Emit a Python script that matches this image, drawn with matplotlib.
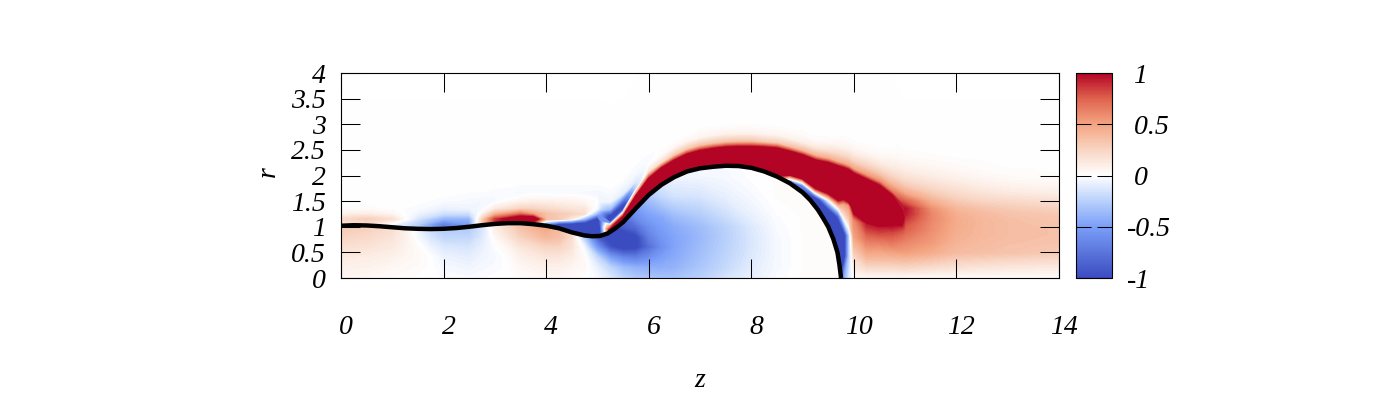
import numpy as np
import matplotlib
matplotlib.use("Agg")
import matplotlib.pyplot as plt
from matplotlib.path import Path
from matplotlib.colors import LinearSegmentedColormap, Normalize
from matplotlib.cm import ScalarMappable
from matplotlib.transforms import ScaledTranslation

plt.rcParams['font.family'] = ['Liberation Serif', 'DejaVu Serif']
plt.rcParams['font.style'] = 'italic'
FS = 20

z_ticks = [0, 2, 4, 6, 8, 10, 12, 14]
z_ticklabels = ['0', '2', '4', '6', '8', '10', '12', '14']
r_ticks = [0, 0.5, 1, 1.5, 2, 2.5, 3, 3.5, 4]
r_ticklabels = ['0', '0.5', '1', '1.5', '2', '2.5', '3', '3.5', '4']
c_ticks = [-1, -0.5, 0, 0.5, 1]
c_ticklabels = ['-1', '-0.5', '0', '0.5', '1']

# interface
iface_z = [0, .25, .5, .75, 1, 1.25, 1.5, 1.75, 2, 2.25, 2.5, 2.75, 3, 3.25, 3.5, 3.75, 4, 4.25, 4.5, 4.75, 4.9, 5.05, 5.2, 5.35, 5.5, 5.75,
           6, 6.25, 6.5, 6.75, 7, 7.25, 7.5, 7.75, 8, 8.25, 8.5, 8.75, 9, 9.15, 9.3, 9.4, 9.5, 9.6, 9.68, 9.72, 9.75]
iface_r = [1.02, 1.03, 1.025, 1.01, .99, .97, .96, .955, .96, .975, 1.0, 1.03, 1.055, 1.07, 1.07, 1.05, 1.02, .97, .89, .83, .815, .82, .87, .97, 1.09, 1.36,
           1.62, 1.82, 1.97, 2.08, 2.14, 2.17, 2.19, 2.185, 2.15, 2.08, 1.98, 1.85, 1.67, 1.52, 1.33, 1.17, 1.0, .76, .5, .25, 0]

# vorticity above the interface, in hundredths, one row per z value
outer_z = [0, .5, 1, 1.5, 2, 2.5, 2.75, 3, 3.5, 3.75, 4, 4.25, 4.5, 4.75, 5, 5.25, 5.5, 5.75, 6, 6.25, 6.5, 6.75, 7, 7.25,
           7.5, 7.75, 8, 8.25, 8.5, 8.75, 9, 9.25, 9.5, 9.7, 9.8, 9.9, 10, 10.25, 10.5, 10.75, 11, 11.5, 12, 12.5, 13, 13.5, 14]
# height of the upper edge of the strong sheet in each column
outer_top = [1.25, 1.25, 1.25, 1.25, 1.25, 1.25, 1.25, 1.25, 1.25, 1.25, 1.25, 1.25, 1.25, 1.25, 1.25, 1.1, 1.25, 1.64, 1.96, 2.14, 2.29, 2.41, 2.48, 2.52,
             2.55, 2.56, 2.56, 2.55, 2.53, 2.46, 2.38, 2.28, 2.23, 2.16, 2.13, 2.09, 2.02, 1.9, 1.78, 1.58, 1.25, 1.25, 1.25, 1.25, 1.25, 1.25, 1.25]
outer_h = [0, .25, .5, .7, .85, .95, 1.05, 1.15, 1.25, 1.35, 1.5, 1.65, 1.8, 1.95, 2.1, 2.25, 2.4, 2.55, 2.7, 3, 3.5]
outer_w = [
    [15, 15, 15, 15, 15, 15, 15, 22, 8, 1, 0, 0, 0, 0, 0, 0, 0, 0, 0, 0, 0],
    [20, 20, 20, 20, 20, 20, 20, 28, 10, 2, 0, 0, 0, 0, 0, 0, 0, 0, 0, 0, 0],
    [-3, -3, -3, -3, -3, -3, -3, 18, 5, 0, 0, 0, 0, 0, 0, 0, 0, 0, 0, 0, 0],
    [-25, -25, -25, -25, -25, -25, -25, -15, -6, -2, 0, 0, 0, 0, 0, 0, 0, 0, 0, 0, 0],
    [-70, -70, -70, -70, -70, -70, -70, -40, -18, -8, -2, 0, 0, 0, 0, 0, 0, 0, 0, 0, 0],
    [-50, -50, -50, -50, -50, -50, -50, -40, -18, -6, -3, -1, 0, 0, 0, 0, 0, 0, 0, 0, 0],
    [30, 30, 30, 30, 30, 30, 30, 25, 5, -3, -4, -1, 0, 0, 0, 0, 0, 0, 0, 0, 0],
    [90, 90, 90, 90, 90, 90, 90, 85, 40, 12, -3, -2, 0, 0, 0, 0, 0, 0, 0, 0, 0],
    [130, 130, 130, 130, 130, 130, 130, 130, 70, 25, 6, -3, -1, 0, 0, 0, 0, 0, 0, 0, 0],
    [60, 60, 60, 60, 60, 60, 60, 130, 50, 25, 8, -2, -1, 0, 0, 0, 0, 0, 0, 0, 0],
    [-60, -60, -60, -60, -60, -60, -60, 35, 35, 22, 8, -2, -1, 0, 0, 0, 0, 0, 0, 0, 0],
    [-110, -110, -110, -110, -110, -110, -110, 30, 30, 18, 7, -2, -1, 0, 0, 0, 0, 0, 0, 0, 0],
    [-120, -120, -120, -120, -120, -120, -120, 10, 25, 15, 6, -2, -1, 0, 0, 0, 0, 0, 0, 0, 0],
    [-150, -150, -150, -150, -150, -150, -130, -40, 18, 14, 4, -3, -1, 0, 0, 0, 0, 0, 0, 0, 0],
    [-160, -160, -160, -160, -160, -160, -150, -120, -40, -4, 0, -4, -1, 0, 0, 0, 0, 0, 0, 0, 0],
    [110, 110, 110, 110, 110, 110, 120, 50, -120, -120, -35, -5, -2, 0, 0, 0, 0, 0, 0, 0, 0],
    [150, 150, 150, 150, 150, 150, 150, 150, 40, -130, -80, -10, -4, 0, 0, 0, 0, 0, 0, 0, 0],
    [200, 200, 200, 200, 200, 200, 200, 200, 50, -25, -12, -3, -1, 0, 0, 0, 0, 0, 0, 0, 0],
    [200, 200, 200, 200, 200, 200, 200, 200, 80, 15, -1, -2, 0, 0, 0, 0, 0, 0, 0, 0, 0],
    [200, 200, 200, 200, 200, 200, 200, 200, 100, 20, 2, 0, 0, 0, 0, 0, 0, 0, 0, 0, 0],
    [200, 200, 200, 200, 200, 200, 200, 200, 100, 30, 4, 0, 0, 0, 0, 0, 0, 0, 0, 0, 0],
    [200, 200, 200, 200, 200, 200, 200, 200, 100, 32, 5, 0, 0, 0, 0, 0, 0, 0, 0, 0, 0],
    [200, 200, 200, 200, 200, 200, 200, 200, 100, 35, 6, 1, 0, 0, 0, 0, 0, 0, 0, 0, 0],
    [200, 200, 200, 200, 200, 200, 200, 200, 100, 35, 7, 1, 0, 0, 0, 0, 0, 0, 0, 0, 0],
    [200, 200, 200, 200, 200, 200, 200, 200, 100, 35, 8, 1, 0, 0, 0, 0, 0, 0, 0, 0, 0],
    [200, 200, 200, 200, 200, 200, 200, 200, 100, 35, 8, 1, 0, 0, 0, 0, 0, 0, 0, 0, 0],
    [200, 200, 200, 200, 200, 200, 200, 200, 100, 35, 8, 1, 0, 0, 0, 0, 0, 0, 0, 0, 0],
    [200, 200, 200, 200, 200, 200, 200, 200, 100, 30, 6, 1, 0, 0, 0, 0, 0, 0, 0, 0, 0],
    [50, 50, 50, 50, 50, 50, 200, 200, 100, 30, 6, 1, 0, 0, 0, 0, 0, 0, 0, 0, 0],
    [-90, -90, -90, -90, -90, -90, 170, 200, 105, 35, 8, 1, 0, 0, 0, 0, 0, 0, 0, 0, 0],
    [-130, -130, -130, -130, -130, -60, 170, 200, 110, 40, 10, 2, 0, 0, 0, 0, 0, 0, 0, 0, 0],
    [-130, -130, -130, -130, -130, 80, 200, 200, 110, 45, 14, 2, 0, 0, 0, 0, 0, 0, 0, 0, 0],
    [-160, -160, -160, -160, -5, 130, 200, 200, 110, 45, 18, 4, 0, 0, 0, 0, 0, 0, 0, 0, 0],
    [-100, -120, -170, -80, 70, 170, 200, 200, 110, 45, 22, 7, 1, 0, 0, 0, 0, 0, 0, 0, 0],
    [-50, -130, -130, 10, 50, 140, 200, 200, 110, 47, 23, 8, 2, 0, 0, 0, 0, 0, 0, 0, 0],
    [-15, -30, -30, 30, 55, 170, 200, 200, 110, 48, 24, 9, 2, 0, 0, 0, 0, 0, 0, 0, 0],
    [3, 22, 50, 60, 130, 190, 200, 200, 110, 50, 25, 10, 3, 0, 0, 0, 0, 0, 0, 0, 0],
    [3, 38, 68, 95, 200, 200, 200, 200, 110, 55, 30, 14, 4, 1, 0, 0, 0, 0, 0, 0, 0],
    [2, 36, 66, 95, 200, 200, 200, 200, 110, 60, 32, 16, 6, 1, 0, 0, 0, 0, 0, 0, 0],
    [2, 33, 62, 82, 105, 150, 200, 200, 110, 65, 40, 24, 13, 7, 2, 0, 0, 0, 0, 0, 0],
    [2, 28, 52, 62, 70, 76, 80, 88, 95, 98, 75, 48, 30, 18, 10, 5, 2, 0, 0, 0, 0],
    [1, 24, 46, 54, 57, 59, 60, 62, 62, 58, 44, 30, 20, 12, 7, 3, 1, 0, 0, 0, 0],
    [1, 20, 38, 42, 44, 45, 46, 46, 44, 40, 30, 21, 14, 8, 4, 2, 0, 0, 0, 0, 0],
    [1, 18, 36, 38, 40, 40, 40, 40, 38, 34, 24, 16, 10, 5, 2, 1, 0, 0, 0, 0, 0],
    [1, 16, 34, 36, 37, 37, 37, 36, 34, 30, 22, 13, 7, 3, 1, 0, 0, 0, 0, 0, 0],
    [1, 15, 32, 35, 36, 36, 35, 34, 32, 28, 20, 11, 6, 2, 1, 0, 0, 0, 0, 0, 0],
    [1, 14, 30, 34, 35, 35, 34, 33, 30, 26, 18, 10, 5, 2, 0, 0, 0, 0, 0, 0, 0],
]

# vorticity below the interface, in hundredths, one row per z value
inner_z = [0, .5, 1, 1.25, 1.5, 1.75, 2, 2.5, 2.75, 3, 3.25, 3.5, 4, 4.25, 4.5, 4.75, 5, 5.25, 5.5, 5.75,
           6, 6.25, 6.5, 7, 7.5, 8, 8.5, 9, 9.8]
inner_r = [0, .2, .4, .6, .8, 1, 1.2, 1.6, 2, 2.4]
inner_w = [
    [5, 8, 12, 18, 25, 30, 30, 30, 30, 30],
    [4, 7, 10, 16, 22, 28, 28, 28, 28, 28],
    [2, 4, 8, 12, 16, 20, 20, 20, 20, 20],
    [1, 3, 5, 7, 8, 8, 8, 8, 8, 8],
    [0, 2, 3, 2, -3, -8, -8, -8, -8, -8],
    [0, 0, 0, -6, -14, -20, -20, -20, -20, -20],
    [-1, -3, -6, -12, -22, -30, -30, -30, -30, -30],
    [-2, -5, -9, -14, -22, -30, -30, -30, -30, -30],
    [-1, -3, -5, -8, -12, -15, -15, -15, -15, -15],
    [0, -2, -3, -1, 3, 10, 10, 10, 10, 10],
    [-1, 0, 1, 5, 14, 22, 22, 22, 22, 22],
    [2, 4, 8, 14, 26, 35, 35, 35, 35, 35],
    [4, 8, 14, 24, 40, 50, 50, 50, 50, 50],
    [4, 8, 14, 24, 36, 40, 40, 40, 40, 40],
    [2, 5, 10, 16, 20, 10, 10, 10, 10, 10],
    [0, 3, 2, -5, -30, -60, -60, -60, -60, -60],
    [-3, -8, -20, -55, -90, -100, -100, -100, -100, -100],
    [-12, -22, -50, -95, -110, -100, -100, -100, -100, -100],
    [-22, -35, -65, -110, -120, -90, -80, -80, -80, -80],
    [-28, -40, -70, -105, -105, -80, -60, -40, -40, -40],
    [-30, -42, -60, -80, -70, -60, -50, -30, -15, -15],
    [-32, -42, -50, -60, -55, -50, -45, -20, -8, -8],
    [-32, -40, -44, -47, -47, -44, -36, -15, -5, -5],
    [-25, -30, -33, -35, -37, -35, -28, -14, -4, -3],
    [-15, -20, -22, -24, -25, -24, -18, -8, -3, -2],
    [-8, -10, -12, -13, -13, -12, -8, -3, 0, 0],
    [-2, -3, -3, -3, -3, -2, -1, 1, 1, 1],
    [1, 1, 1, 1, 1, 1, 1, 1, 1, 1],
    [2, 2, 2, 2, 2, 2, 2, 2, 2, 2],
]

cmap = LinearSegmentedColormap.from_list('vort', [
    (0.0, '#3b4cc0'), (0.25, '#7b9ff9'), (0.375, '#b8d0fb'), (0.5, '#ffffff'),
    (0.625, '#f8d5c3'), (0.75, '#f4a582'), (0.875, '#df634e'), (1.0, '#b40426')])
norm = Normalize(-1, 1)
levels = np.linspace(-1, 1, 128)

fig = plt.figure(figsize=(14, 4), dpi=100)
ax = fig.add_axes([341 / 1400, 122 / 400, 718 / 1400, 205 / 400])
cax = fig.add_axes([1076 / 1400, 122 / 400, 36 / 1400, 205 / 400])

ax.set_xlim(0, 14)
ax.set_ylim(0, 4)

above = Path(list(zip(iface_z, iface_r)) + [(14, 0), (14, 4), (0, 4), (0, iface_r[0])])
below = Path([(0, 0)] + list(zip(iface_z, iface_r)) + [(0, 0)])

# the outer mesh follows the sheet: rows stretch up to its edge, then keep their spacing
h = np.array(outer_h)
top = np.array(outer_top)[:, None]
R_o = np.where(h <= 1.25, h * top / 1.25, h + top - 1.25)
Z_o = np.repeat(np.array(outer_z)[:, None], len(outer_h), axis=1)
cs_o = ax.contourf(Z_o, R_o, np.array(outer_w) / 100, levels=levels, cmap=cmap, norm=norm, extend='both')
cs_o.set_clip_path(above, ax.transData)
cs_i = ax.contourf(inner_z, inner_r, np.array(inner_w).T / 100, levels=levels, cmap=cmap, norm=norm, extend='both')
cs_i.set_clip_path(below, ax.transData)

ax.plot(iface_z, iface_r, color='black', lw=3.2, solid_capstyle='butt', solid_joinstyle='round', zorder=4)

TL = 13.7
ax.set_xticks(z_ticks, z_ticklabels)
ax.set_yticks(r_ticks, r_ticklabels)
ax.tick_params(axis='both', direction='in', length=TL, width=0.75, top=True, right=True, labelsize=FS)
ax.tick_params(axis='x', pad=27)
ax.tick_params(axis='y', pad=11)
for t in ax.get_xticklabels():
    t.set_transform(t.get_transform() + ScaledTranslation(3.5 / 72, 0, fig.dpi_scale_trans))
for s in ax.spines.values():
    s.set_linewidth(0.8)
    s.set_zorder(6)
ax.set_xlabel('z', fontsize=FS)
ax.xaxis.set_label_coords(0.5, -0.5)
ax.xaxis.label.set_verticalalignment('center')
ax.set_ylabel('r', fontsize=FS)
ax.yaxis.set_label_coords(-0.1017, 0.52)
ax.yaxis.label.set_verticalalignment('center')

sm = ScalarMappable(norm=norm, cmap=cmap)
cb = fig.colorbar(sm, cax=cax)
cb.set_ticks(c_ticks, labels=[(' ' + s if not s.startswith('-') else s) for s in c_ticklabels])
cb.outline.set_linewidth(0.8)
cax.tick_params(axis='y', direction='in', length=10.5, width=0.75, left=True, right=True, labelsize=FS, pad=11)

fig.savefig('out.png', dpi=100)
